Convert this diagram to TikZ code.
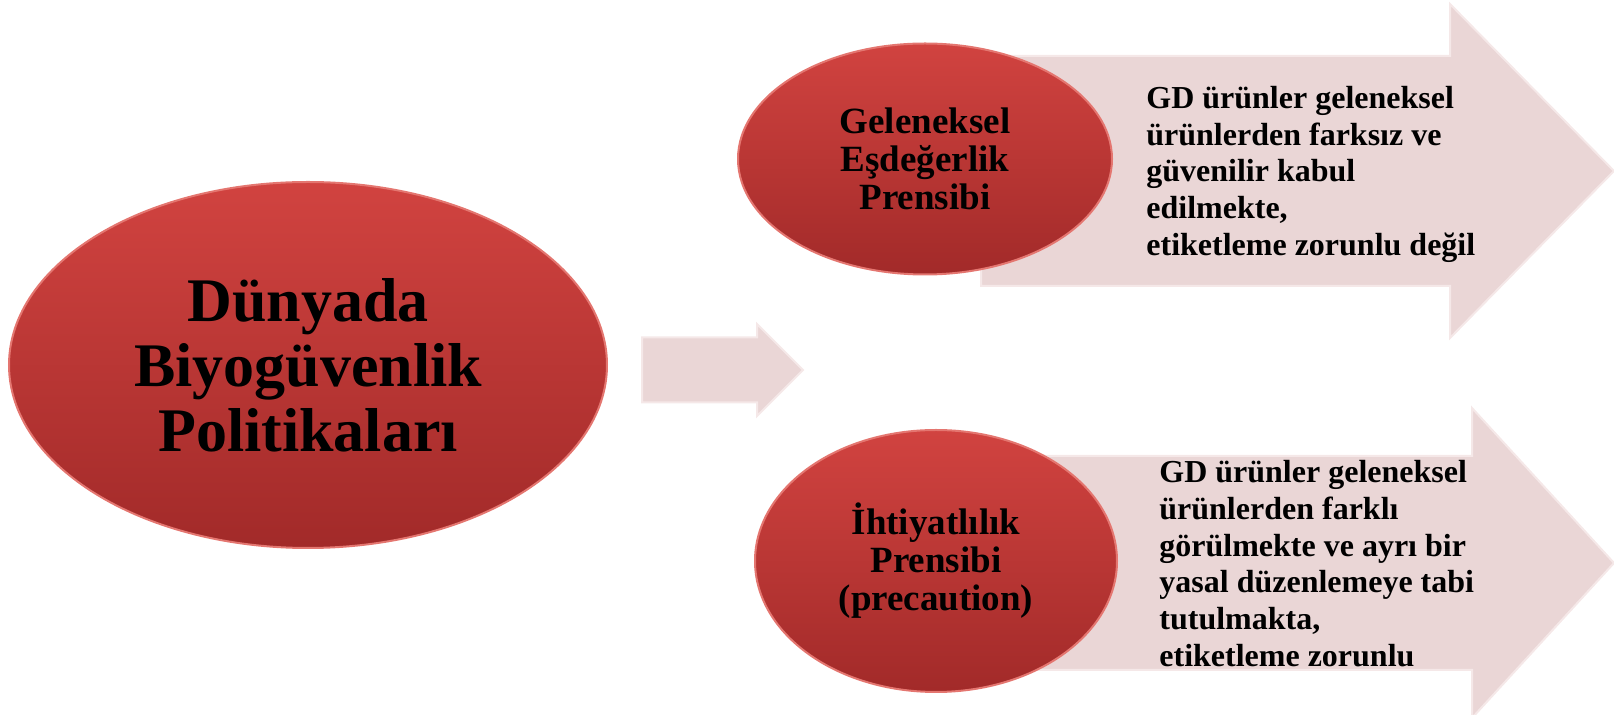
\documentclass[tikz,border=0pt]{standalone}
\usepackage{fontspec}
\setmainfont{Liberation Serif}
\usetikzlibrary{shapes.geometric}

\definecolor{ovaltop}{RGB}{209,67,64}
\definecolor{ovalbot}{RGB}{162,42,41}
\definecolor{ovalrim}{RGB}{228,118,112}
\definecolor{arrowpink}{RGB}{234,214,214}
\definecolor{arrowedge}{RGB}{245,232,232}

\begin{document}
\begin{tikzpicture}[x=0.5pt, y=-0.5pt,
	oval/.style={ellipse, draw=ovalrim, line width=1pt, top color=ovaltop, bottom color=ovalbot, inner sep=0pt, align=center},
	blockarrow/.style={fill=arrowpink, draw=arrowedge, line width=1pt},
	arrowtext/.style={anchor=north west, inner sep=0pt, align=left, font=\fontsize{16}{18.35}\selectfont\bfseries}]
	\useasboundingbox (0,0) rectangle (1614,715);
	% block arrows, behind the ovals
	\foreach \n/\xl/\xh/\xt/\yc/\bw/\hw in {up/981/1450/1614/171/115/167, mid/642/757/803/370/32.5/46, low/1000/1472/1614/563/107/155} {
		\coordinate (\n tip) at (\xt,\yc);
		\path[blockarrow] (\xl,\yc-\bw) -- (\xh,\yc-\bw) -- (\xh,\yc-\hw) -- (\n tip) -- (\xh,\yc+\hw) -- (\xh,\yc+\bw) -- (\xl,\yc+\bw) -- cycle;
	}
	% ovals
	\node[oval, minimum width=299pt, minimum height=183pt, font=\fontsize{31}{32.5}\selectfont\bfseries] (world) at (308,365) {Dünyada\\Biyogüvenlik\\Politikaları};
	\node[oval, minimum width=187pt, minimum height=115.5pt, font=\fontsize{18.5}{19}\selectfont\bfseries] (equiv) at (925,159) {Geleneksel\\Eşdeğerlik\\Prensibi};
	\node[oval, minimum width=181pt, minimum height=131pt, font=\fontsize{18.5}{19}\selectfont\bfseries] (precaution) at (936,561) {İhtiyatlılık\\Prensibi\\(precaution)};
	% texts in the arrows
	\node[arrowtext] (equivtext) at (1146,86) {GD ürünler geleneksel\\ürünlerden farksız ve\\güvenilir kabul\\edilmekte,\\etiketleme zorunlu değil};
	\node[arrowtext] (precautiontext) at (1159,460) {GD ürünler geleneksel\\ürünlerden farklı\\görülmekte ve ayrı bir\\yasal düzenlemeye tabi\\tutulmakta,\\etiketleme zorunlu};
\end{tikzpicture}
\end{document}
